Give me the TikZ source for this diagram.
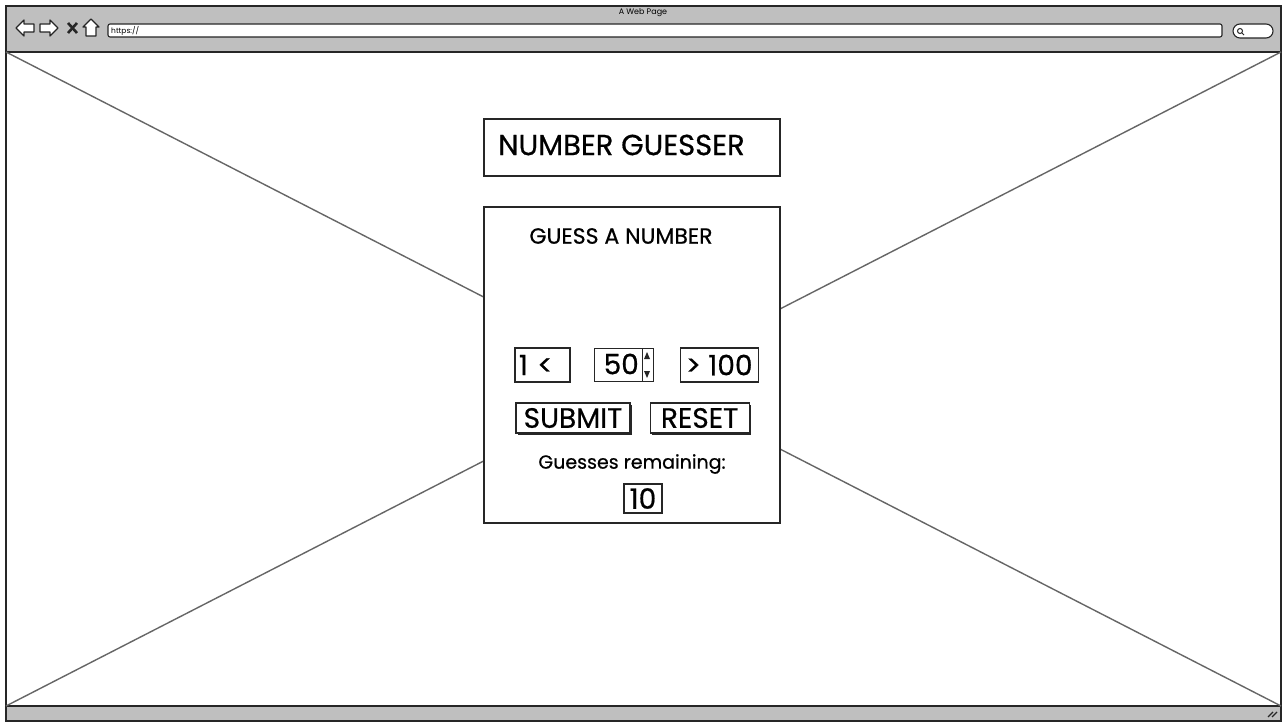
\documentclass[tikz,border=0pt]{standalone}
\usepackage{fontspec}
\setmainfont{Poppins}
\newfontface\sketchfont{Poppins}[FakeBold=0.6]
\usetikzlibrary{positioning,shadows}

\begin{document}
\begin{tikzpicture}[x=1pt,y=-1pt]
\tikzstyle{frame}=[draw=black!85, line width=1.3pt]
\tikzstyle{bar}=[frame, fill=black!25]
\tikzstyle{cross}=[draw=black!60, line width=1.4pt]
\tikzstyle{box}=[rectangle, draw=black!85, line width=1.1pt, fill=white, inner sep=0pt]
\tikzstyle{field}=[box, font=\sketchfont\fontsize{28}{28}\selectfont]
\tikzstyle{button}=[field, drop shadow={shadow xshift=2pt, shadow yshift=-2pt, fill=black!85, opacity=1}]
\tikzstyle{icon}=[draw=black!85, fill=white, line width=1.2pt, line join=round]
\useasboundingbox (0,0) rectangle (1287,727);
\fill[white] (0,0) rectangle (1287,727);
% browser window
\draw[bar] (6,6) rectangle (1281,52);
\draw[bar] (6,706) rectangle (1281,721);
\coordinate (tl) at (6,52);
\coordinate (tr) at (1281,52);
\coordinate (bl) at (6,706);
\coordinate (br) at (1281,706);
\draw[frame, fill=white] (tl) rectangle (br);
\draw[cross] (tl) -- (br);
\draw[cross] (bl) -- (tr);
\node[font=\fontsize{8}{8}\selectfont] (pagename) at (643,13) {A Web Page};
% toolbar icons
\draw[icon] (16,28) -- (24,20) -- (24,24) -- (34,24) -- (34,32) -- (24,32) -- (24,36) -- cycle;
\draw[icon] (58,28) -- (50,20) -- (50,24) -- (40,24) -- (40,32) -- (50,32) -- (50,36) -- cycle;
\draw[black!85, line width=2.6pt] (68,23) -- (77,33) (77,23) -- (68,33);
\draw[icon] (91,19) -- (99,27) -- (96,27) -- (96,36) -- (86,36) -- (86,27) -- (83,27) -- cycle;
\node[box, rounded corners=2pt, minimum width=1114pt, minimum height=13pt] (url) at (665,30.5) {};
\node[anchor=west, inner sep=0pt, font=\fontsize{7.5}{7.5}\selectfont] (urltext) at (111,31) {https://};
\node[box, rounded corners=7pt, minimum width=40pt, minimum height=14pt] (search) at (1253,31) {};
\draw[black!85, line width=1pt] (1240,31) circle (2.5pt) (1242,33) -- (1244,35);
% resize grip
\draw[black!85, line width=1.2pt] (1268,717) -- (1273,712) (1272,717) -- (1277,712);
% title
\node[box, minimum width=296pt, minimum height=57pt] (title) at (632,147.5) {};
\node[anchor=west, inner sep=0pt, font=\sketchfont\fontsize{29}{29}\selectfont] (titletext) at (498,145) {NUMBER GUESSER};
% guessing panel
\node[box, minimum width=296pt, minimum height=316pt] (panel) at (632,365) {};
\node[font=\sketchfont\fontsize{22}{22}\selectfont] (heading) at (621,236) {GUESS A NUMBER};
\node[field, inner xsep=4pt, text width=47pt, align=left, minimum height=34pt] (low) at (542.5,365) {1 <};
\node[box, minimum width=59pt, minimum height=33pt] (guess) [right=23pt of low] {};
\node[anchor=east, inner sep=0pt, font=\sketchfont\fontsize{28}{28}\selectfont] (guesstext) at (639,364) {50};
\draw[black!85, line width=1pt] (642,348) -- (642,381);
\fill[black!85] (647,352) -- (650,359) -- (644,359) -- cycle;
\fill[black!85] (647,378) -- (650,371) -- (644,371) -- cycle;
\node[field, minimum width=78pt, minimum height=34pt] (high) [right=26pt of guess] {> 100};
\node[button, minimum width=114pt, minimum height=30pt] (submit) at (573,418) {SUBMIT};
\node[button, minimum width=99pt, minimum height=30pt] (reset) [right=19pt of submit] {RESET};
\node[font=\sketchfont\fontsize{19}{19}\selectfont] (remaining) at (632,464) {Guesses remaining:};
\node[field, minimum width=38pt, minimum height=29pt] (count) at (643,498.5) {10};
\end{tikzpicture}
\end{document}
